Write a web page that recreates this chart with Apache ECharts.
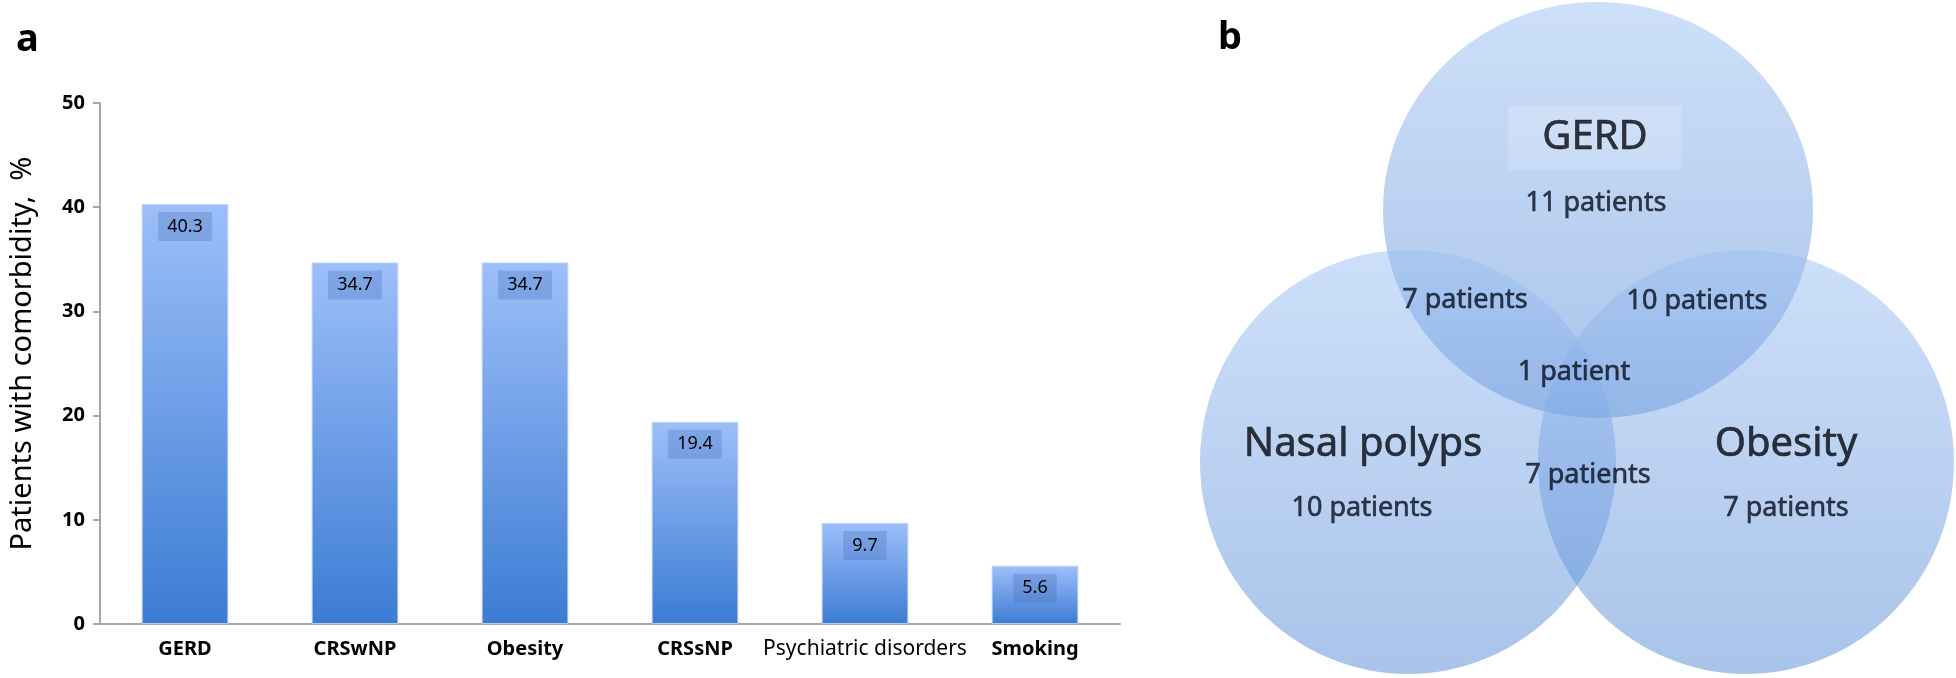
<!DOCTYPE html>
<html>
<head>
<meta charset="utf-8">
<script src="https://cdn.jsdelivr.net/npm/echarts@6/dist/echarts.min.js"></script>
<style>
  html, body { margin: 0; padding: 0; background: #fff; }
  #chart { width: 1956px; height: 678px; }
</style>
</head>
<body>
<div id="chart"></div>
<script>
// panel a: comorbidities
const categories = ['GERD', 'CRSwNP', 'Obesity', 'CRSsNP', 'Psychiatric disorders', 'Smoking']
const percentValues = [40.3, 34.7, 34.7, 19.4, 9.7, 5.6]
const yMin = 0
const yMax = 50
const yStep = 10

// panel b: venn counts
const vennSets = ['GERD', 'Nasal polyps', 'Obesity']
const vennRegions = ['GERD only', 'Nasal polyps only', 'Obesity only', 'GERD + Nasal polyps', 'GERD + Obesity', 'Nasal polyps + Obesity', 'All three']
const vennCounts = [11, 10, 7, 7, 10, 7, 1]

// venn layout (units of 100px inside the right grid)
const circlePos = [[4.18, 2.10], [2.28, 4.62], [5.66, 4.62]]
const circleSize = [[430, 416], [416, 424], [416, 424]]
const setLabelPos = [[4.15, 1.38], [1.83, 4.45], [6.06, 4.45]]
const regionLabelPos = [[4.16, 2.03], [1.82, 5.08], [6.06, 5.08], [2.85, 3.00], [5.17, 3.01], [4.08, 4.75], [3.94, 3.72]]

const font = 'Noto Sans'
const ellipse = 'path://M0,50 A50,50 0 1,1 100,50 A50,50 0 1,1 0,50 Z'

let chart = echarts.init(document.getElementById('chart'))
chart.setOption({
  animation: false,
  title: [
    { text: 'a', left: 16, top: 21, padding: 0, textStyle: { fontFamily: font, fontSize: 38, fontWeight: 'bold', color: '#000' } },
    { text: 'b', left: 1218, top: 19, padding: 0, textStyle: { fontFamily: font, fontSize: 38, fontWeight: 'bold', color: '#000' } }
  ],
  grid: [
    { left: 92, right: 836, top: 103, bottom: 54 },
    { left: 1180, right: 0, top: 0, bottom: 0 }
  ],
  xAxis: [
    {
      type: 'category',
      gridIndex: 0,
      data: categories,
      axisLine: { lineStyle: { color: '#a6a6a6', width: 2 } },
      axisTick: { length: 6, lineStyle: { color: '#a6a6a6', width: 2 } },
      axisLabel: {
        margin: 15,
        interval: 0,
        formatter: v => (v === 'Psychiatric disorders' ? '{n|' + v + '}' : '{b|' + v + '}'),
        rich: {
          b: { fontFamily: font, fontSize: 20, fontWeight: 'bold', color: '#000' },
          n: { fontFamily: font, fontSize: 21, color: '#000' }
        }
      },
      splitLine: { show: false }
    },
    { type: 'value', gridIndex: 1, min: 0, max: 7.76, show: false }
  ],
  yAxis: [
    {
      type: 'value',
      gridIndex: 0,
      min: yMin,
      max: yMax,
      interval: yStep,
      name: 'Patients with comorbidity,  %',
      nameLocation: 'middle',
      nameGap: 63,
      nameTextStyle: { fontFamily: font, fontSize: 29, color: '#000', padding: [0, 0, 0, 20] },
      axisLine: { show: true, lineStyle: { color: '#a6a6a6', width: 2 } },
      axisTick: { show: true, length: 7, lineStyle: { color: '#a6a6a6', width: 2 } },
      axisLabel: { margin: 15, fontFamily: font, fontSize: 20, fontWeight: 'bold', color: '#000' },
      splitLine: { show: false }
    },
    { type: 'value', gridIndex: 1, min: 0, max: 6.78, inverse: true, show: false }
  ],
  series: [
    {
      type: 'bar',
      xAxisIndex: 0,
      yAxisIndex: 0,
      barWidth: '51%',
      data: percentValues,
      itemStyle: {
        borderColor: 'rgba(190,212,248,0.9)',
        borderWidth: 1,
        color: new echarts.graphic.LinearGradient(0, 0, 0, 1, [
          { offset: 0, color: '#9dbff9' },
          { offset: 1, color: '#3c7cd3' }
        ])
      },
      label: {
        show: true,
        position: 'insideTop',
        distance: 8,
        fontFamily: font,
        fontSize: 18,
        lineHeight: 19,
        color: '#000',
        backgroundColor: 'rgba(70,110,185,0.3)',
        padding: [5, 9]
      }
    },
    {
      type: 'scatter',
      name: 'circles',
      xAxisIndex: 1,
      yAxisIndex: 1,
      symbol: ellipse,
      silent: true,
      data: vennSets.map((s, i) => ({ name: s, value: circlePos[i], symbolSize: circleSize[i] })),
      itemStyle: {
        opacity: 1,
        color: new echarts.graphic.LinearGradient(0, 0, 0, 1, [
          { offset: 0, color: 'rgba(156,192,244,0.5)' },
          { offset: 1, color: 'rgba(84,137,212,0.5)' }
        ])
      }
    },
    {
      type: 'scatter',
      name: 'set names',
      xAxisIndex: 1,
      yAxisIndex: 1,
      symbolSize: 1,
      silent: true,
      itemStyle: { color: 'rgba(0,0,0,0)' },
      data: vennSets.map((s, i) => {
        let item = { name: s, value: setLabelPos[i] }
        if (i === 0) item.label = { backgroundColor: 'rgba(255,255,255,0.22)', padding: [12, 34] }
        return item
      }),
      label: {
        show: true,
        position: 'inside',
        formatter: p => p.name,
        fontFamily: font,
        fontSize: 40,
        color: '#05080f',
        textBorderColor: '#05080f',
        textBorderWidth: 0.6
      }
    },
    {
      type: 'scatter',
      name: 'region counts',
      xAxisIndex: 1,
      yAxisIndex: 1,
      symbolSize: 1,
      silent: true,
      itemStyle: { color: 'rgba(0,0,0,0)' },
      data: vennRegions.map((r, i) => ({ name: r, value: regionLabelPos[i].concat(vennCounts[i]) })),
      label: {
        show: true,
        position: 'inside',
        formatter: p => {
          let n = p.value[2]
          return n + (n === 1 ? ' patient' : ' patients')
        },
        fontFamily: font,
        fontSize: 27,
        color: '#0b1220',
        textBorderColor: '#0b1220',
        textBorderWidth: 0.6
      }
    }
  ]
})
window.onresize = () => {
  chart.resize()
}
</script>
</body>
</html>
